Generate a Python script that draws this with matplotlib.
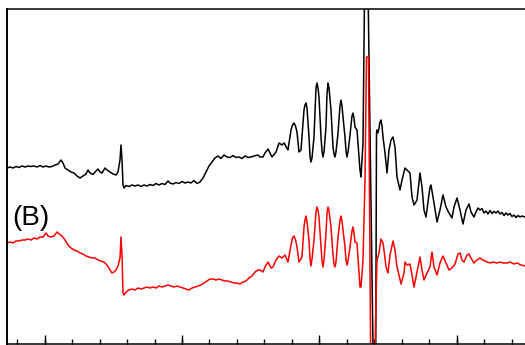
import numpy as np
import matplotlib
matplotlib.use('Agg')
import matplotlib.pyplot as plt

# (channel, intensity a.u.) pairs
black_pts = [
    (7, 176), (10, 177), (13, 176), (16, 177.5), (19, 176.5), (22, 178), (25, 177), (28, 178), (31, 177.5),
    (34, 178), (37, 177), (40, 178.5), (43, 177), (46, 178), (49, 177), (52, 177.5), (55, 179), (58, 180),
    (61, 184), (63, 181), (65, 176), (68, 174), (71, 172), (74, 171), (77, 168), (80, 166), (83, 168),
    (86, 170), (88, 174), (90, 171), (93, 169.5), (96, 173), (98, 175), (100, 172), (102, 171), (105, 176),
    (107, 174), (110, 172), (113, 170), (116, 169), (118, 172), (120, 184), (121, 199), (122, 184), (123, 159),
    (124, 156), (126, 158.5), (129, 157.5), (132, 159), (135, 158), (138, 159), (141, 157.5), (144, 159),
    (147, 158), (150, 159.5), (153, 158.5), (156, 160.5), (159, 159), (162, 160.5), (165, 159.5), (168, 163),
    (170, 161), (173, 160), (176, 161.5), (179, 160.5), (182, 162.5), (185, 161), (188, 162), (191, 161),
    (194, 163.5), (197, 160.5), (200, 162), (203, 166), (206, 172), (209, 178), (212, 182), (215, 186),
    (218, 188), (221, 185.5), (224, 189), (227, 187), (230, 186.5), (233, 188.5), (236, 186.5), (239, 187),
    (242, 185.5), (245, 188), (248, 186.5), (251, 187), (254, 188), (258, 189), (260, 187), (263, 187),
    (265, 191), (268, 195), (272, 187), (276, 192), (279, 201), (282, 199), (284, 201), (288, 194),
    (291, 214), (292.5, 219), (294, 221), (295.5, 218), (297, 212), (299, 192), (301, 194), (304, 234),
    (305, 239), (306, 241), (307, 236), (309, 207), (310, 188), (311, 182), (312, 186), (314, 207),
    (316, 256), (317, 261), (318, 256), (319, 247), (321, 207), (322, 193), (323, 187), (324, 192),
    (326, 217), (327, 250), (328, 261), (329, 256), (331, 234), (333, 197), (334, 190), (335, 187),
    (336, 192), (338, 211), (340, 238), (341, 244), (342, 238), (343, 227), (345, 207), (346, 193),
    (347, 187), (348, 192), (350, 209), (352, 228), (353, 231), (354, 226), (355, 217), (357, 214),
    (360, 174), (361, 167), (363, 201), (365, 394), (367.5, 394), (374, -76), (375.5, -76), (376.5, 211),
    (377, 214), (378, 211), (379, 216), (380, 222), (381, 224), (382, 218), (383, 207), (385, 191),
    (387, 171), (389, 194), (391, 204), (393, 207), (395, 197), (397, 167), (400, 154), (402, 164),
    (405, 176), (407, 174), (410, 171), (412, 147), (414, 139), (417, 144), (420, 171), (422, 157),
    (424, 134), (426, 127), (428, 142), (430, 157), (431, 159), (434, 141), (437, 122), (440, 134),
    (443, 149), (446, 137), (449, 131), (452, 126), (454, 137), (457, 146), (460, 134), (463, 120),
    (466, 134), (469, 140), (471, 132), (474, 127), (476, 132), (478, 136), (480, 134), (482, 135.5),
    (484, 131), (486, 133), (488, 130), (490, 133.5), (492, 130.5), (494, 132.5), (496, 131), (498, 133),
    (500, 130), (502, 131.5), (504, 128.5), (506, 131), (508, 129), (510, 130.5), (512, 127.5), (514, 129),
    (516, 126.5), (518, 128.5), (520, 127), (522, 128), (525, 127), (530, 128),
]

red_pts = [
    (7, 101), (10, 102), (13, 101), (16, 103), (19, 103), (22, 104), (25, 104), (28, 105), (31, 104),
    (34, 106), (37, 105), (40, 107), (43, 107), (46, 111), (48, 108), (51, 107), (54, 108), (57, 112),
    (59, 110), (62, 108), (65, 104), (68, 99), (71, 96), (74, 94), (77, 93), (80, 91), (83, 90), (86, 88),
    (89, 87), (92, 86), (95, 86), (98, 84), (101, 83), (104, 82), (107, 79), (110, 74), (112, 71), (114, 72),
    (116, 74), (118, 78), (120, 86), (121, 107), (122, 89), (123, 51), (124, 49), (126, 52), (129, 54),
    (132, 55), (135, 54), (138, 56), (141, 55), (144, 56), (147, 57), (150, 56), (153, 57), (156, 56),
    (159, 58), (162, 57), (165, 58), (168, 59), (171, 58), (174, 57), (177, 58), (180, 57), (183, 56),
    (186, 55), (189, 54), (192, 56), (195, 57), (198, 58), (201, 59), (204, 61), (207, 63), (210, 65),
    (213, 65), (216, 64), (219, 65), (222, 64), (225, 63), (228, 63), (231, 62), (234, 61), (237, 61),
    (240, 60), (243, 62), (246, 63), (249, 66), (252, 68), (255, 72), (258, 74), (260, 74), (263, 72),
    (265, 77), (268, 82), (271, 76), (273, 77), (276, 84), (279, 88), (282, 86), (285, 89), (288, 82),
    (291, 99), (292.5, 106), (294, 108), (295.5, 104), (297, 97), (299, 82), (302, 87), (304, 117),
    (305, 124), (306, 128), (307, 122), (309, 104), (310, 86), (311, 78), (312, 85), (314, 104), (316, 132),
    (317, 137), (318, 134), (319, 127), (321, 97), (322, 83), (323, 77), (324, 84), (326, 111), (327, 131),
    (328, 137), (329, 133), (331, 117), (333, 89), (334, 80), (335, 77), (336, 82), (338, 107), (340, 124),
    (341, 128), (342, 123), (343, 114), (345, 97), (346, 84), (347, 79), (348, 83), (350, 97), (352, 113),
    (353, 117), (354, 111), (355, 102), (357, 101), (360, 57), (361, 57), (363, 84), (365, 164),
    (366.5, 287), (368.5, 287), (369.5, 150), (371, -60), (374, -60), (376, 44), (377, 84), (379, 91),
    (381, 105), (383, 101), (384, 94), (386, 77), (388, 71), (390, 89), (393, 103), (395, 94), (397, 77),
    (399, 69), (401, 60), (404, 71), (405, 82), (407, 79), (410, 80), (412, 69), (414, 57), (417, 72),
    (420, 87), (422, 74), (424, 64), (427, 71), (430, 77), (432, 92), (434, 77), (437, 69), (440, 81),
    (443, 88), (446, 81), (449, 74), (452, 76), (455, 80), (458, 90), (460, 91), (462, 84), (464, 82),
    (467, 89), (469, 90), (471, 86), (474, 81), (477, 84), (480, 86), (483, 84), (487, 82), (490, 81),
    (493, 82), (497, 81), (500, 82), (503, 81), (507, 81), (510, 82), (514, 80), (517, 81), (521, 79),
    (525, 78), (530, 78),
]

label = "(B)"

black_x, black_y = zip(*black_pts)
red_x, red_y = zip(*red_pts)

fig = plt.figure(figsize=(5.25, 3.45), dpi=100)
ax = fig.add_axes([7 / 525, 1 / 345, 523 / 525, 335 / 345])

ax.plot(black_x, black_y, color='black', lw=1.1, solid_joinstyle='round')
ax.plot(red_x, red_y, color='#ff0000', lw=1.1, solid_joinstyle='round')

ax.set_xlim(7, 530)
ax.set_ylim(0, 335)

ax.set_xticks(np.arange(44.7, 530, 137.35))
ax.set_xticks(np.arange(17.2, 530, 27.47), minor=True)
ax.tick_params(axis='x', which='major', direction='in', length=6.5, width=1.0, labelbottom=False)
ax.tick_params(axis='x', which='minor', direction='in', length=3.3, width=1.0)
ax.set_yticks([])
ax.spines['right'].set_visible(False)
ax.spines['left'].set_linewidth(1.4)
ax.spines['top'].set_linewidth(1.1)
ax.spines['bottom'].set_linewidth(1.1)

ax.text(12, 119, label, fontsize=20, family='Liberation Sans', ha='left', va='baseline')

fig.savefig('out.png', dpi=100)
